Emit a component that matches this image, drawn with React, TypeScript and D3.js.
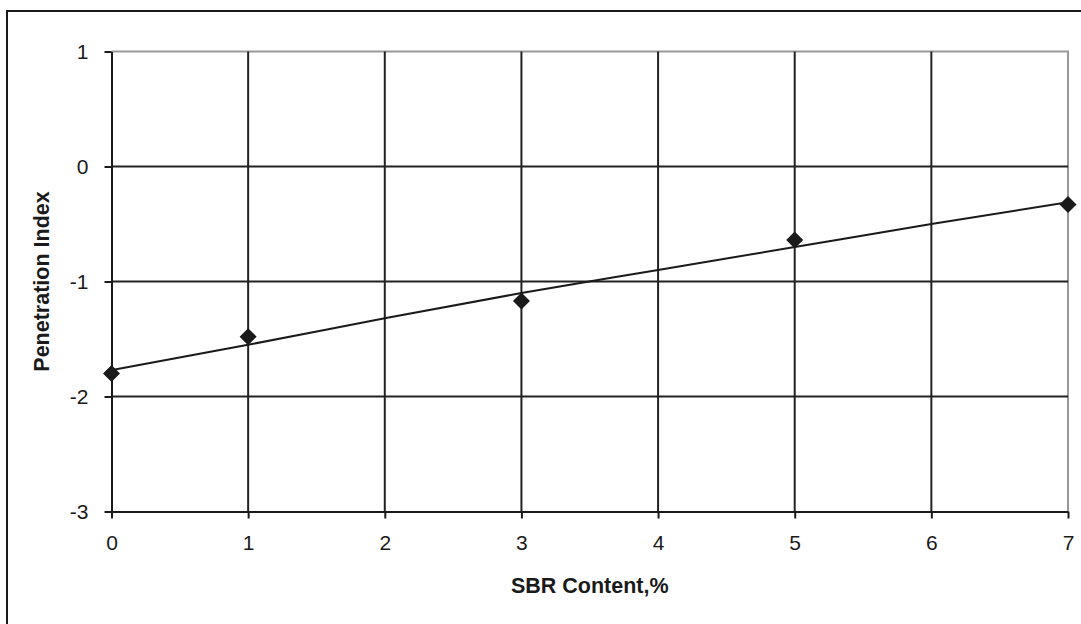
import React, { useEffect, useRef } from 'react';
import * as d3 from 'd3';

const sbrContent = [0, 1, 3, 5, 7];
const penetrationIndex = [-1.8, -1.48, -1.17, -0.64, -0.33];
// trend curve
const trendX = [0, 1, 2, 3, 4, 5, 6, 7];
const trendY = [-1.77, -1.55, -1.32, -1.1, -0.9, -0.7, -0.5, -0.31];
const xTicks = [0, 1, 2, 3, 4, 5, 6, 7];
const yTicks = [1, 0, -1, -2, -3];

export default function App() {
  const svgRef = useRef<SVGSVGElement>(null);

  const width = 1081;
  const height = 624;
  const margin = { left: 111.5, right: 13, top: 51.5, bottom: 112.5 };
  const font = 'Liberation Sans, Arial, sans-serif';

  useEffect(() => {
    const svg = d3.select(svgRef.current);
    svg.selectAll('*').remove();

    const xScale = d3
      .scaleLinear()
      .domain([0, 7])
      .range([margin.left, width - margin.right]);
    const yScale = d3
      .scaleLinear()
      .domain([-3, 1])
      .range([height - margin.bottom, margin.top]);

    // outer chart frame
    svg
      .append('rect')
      .attr('x', 7)
      .attr('y', 11)
      .attr('width', width + 20)
      .attr('height', height + 20)
      .style('fill', 'white')
      .style('stroke', '#1a1a1a')
      .style('stroke-width', 2);

    // plot area top/right edge (grey)
    svg
      .append('path')
      .attr('d', `M${xScale(0)},${yScale(1)}H${xScale(7)}V${yScale(-3)}`)
      .style('fill', 'none')
      .style('stroke', '#999')
      .style('stroke-width', 2);

    // horizontal grid
    svg
      .append('g')
      .selectAll('line')
      .data(yTicks.filter((t) => t !== 1 && t !== -3))
      .enter()
      .append('line')
      .attr('x1', xScale(0))
      .attr('x2', xScale(7))
      .attr('y1', (d) => yScale(d))
      .attr('y2', (d) => yScale(d))
      .style('stroke', '#222')
      .style('stroke-width', 2);

    // vertical grid
    svg
      .append('g')
      .selectAll('line')
      .data(xTicks.filter((t) => t !== 0 && t !== 7))
      .enter()
      .append('line')
      .attr('x1', (d) => xScale(d))
      .attr('x2', (d) => xScale(d))
      .attr('y1', yScale(1))
      .attr('y2', yScale(-3))
      .style('stroke', '#222')
      .style('stroke-width', 2);

    const yAxis = d3
      .axisLeft(yScale)
      .tickValues(yTicks)
      .tickFormat((d) => `${d}`)
      .tickSize(7)
      .tickSizeOuter(0)
      .tickPadding(16);
    const gy = svg
      .append('g')
      .attr('transform', `translate(${xScale(0)},0)`)
      .call(yAxis);

    const xAxis = d3
      .axisBottom(xScale)
      .tickValues(xTicks)
      .tickFormat((d) => `${d}`)
      .tickSize(7)
      .tickSizeOuter(0)
      .tickPadding(17);
    const gx = svg
      .append('g')
      .attr('transform', `translate(0,${yScale(-3)})`)
      .call(xAxis);

    [gx, gy].forEach((g) => {
      g.select('.domain').style('stroke', '#1a1a1a').style('stroke-width', 2);
      g.selectAll('.tick line').style('stroke', '#1a1a1a').style('stroke-width', 2);
      g.selectAll('.tick text')
        .style('font-family', font)
        .style('font-size', '21px')
        .style('fill', '#1a1a1a');
    });

    // trend line
    const trend = trendX.map((x, i) => ({ x, y: trendY[i] }));
    svg
      .append('path')
      .datum(trend)
      .attr(
        'd',
        d3
          .line<{ x: number; y: number }>()
          .x((d) => xScale(d.x))
          .y((d) => yScale(d.y))
          .curve(d3.curveMonotoneX)
      )
      .style('fill', 'none')
      .style('stroke', '#1a1a1a')
      .style('stroke-width', 2);

    // diamond markers
    const pts = sbrContent.map((x, i) => ({ x, y: penetrationIndex[i] }));
    svg
      .append('g')
      .selectAll('path')
      .data(pts)
      .enter()
      .append('path')
      .attr('d', 'M0,-8.5L8.5,0L0,8.5L-8.5,0Z')
      .attr('transform', (d) => `translate(${xScale(d.x)},${yScale(d.y)})`)
      .style('fill', '#1a1a1a');

    svg
      .append('text')
      .attr('x', (xScale(0) + xScale(7)) / 2)
      .attr('y', 592.5)
      .attr('text-anchor', 'middle')
      .style('font-family', font)
      .style('font-size', '21.5px')
      .style('font-weight', 'bold')
      .style('fill', '#1a1a1a')
      .text('SBR Content,%');

    svg
      .append('text')
      .attr('transform', `translate(49,${(yScale(1) + yScale(-3)) / 2}) rotate(-90)`)
      .attr('text-anchor', 'middle')
      .style('font-family', font)
      .style('font-size', '21.5px')
      .style('font-weight', 'bold')
      .style('fill', '#1a1a1a')
      .text('Penetration Index');
  }, []);

  return (
    <svg
      ref={svgRef}
      width={width}
      height={height}
      style={{ position: 'absolute', left: 0, top: 0 }}
    />
  );
}
